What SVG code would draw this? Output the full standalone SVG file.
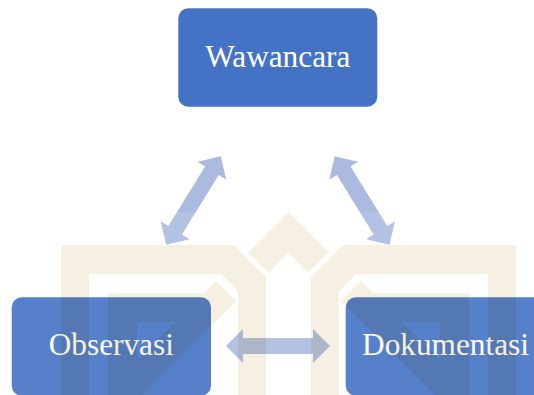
<svg xmlns="http://www.w3.org/2000/svg" xmlns:xlink="http://www.w3.org/1999/xlink" width="534" height="395" viewBox="0 0 534 395">
  <style>
    .box { fill: #4472C4; }
    .lbl { font-family: "Liberation Serif", "Times New Roman", serif; font-size: 31.3px; fill: #FFFFFF; text-anchor: middle; }
    .arr { fill: #ABBADF; }
    .logo { fill: #F6F0E2; }
    #watermark { mix-blend-mode: multiply; }
  </style>
  <defs>
    <polygon id="dblarrow" points="-52,0 -35,-17 -35,-8 35,-8 35,-17 52,0 35,17 35,8 -35,8 -35,17"/>
    <g id="logohalf">
      <polygon points="61,245 234,245 266,277 266,395 238,395 238,291 221,274 89,274 89,395 61,395"/>
      <path fill-rule="evenodd" d="M108,293 L204,293 L216,281 L236,301 L142,395 L108,395 Z M137,322 L175,322 L137,360 Z"/>
    </g>
  </defs>
  <rect x="0" y="0" width="534" height="395" fill="#FFFFFF"/>

  <g id="node-wawancara">
    <rect class="box" x="178.3" y="8.3" width="199" height="98.4" rx="10"/>
    <text class="lbl" x="277.8" y="66.7">Wawancara</text>
  </g>
  <g id="node-observasi">
    <rect class="box" x="11.7" y="297.3" width="199.3" height="98.4" rx="10"/>
    <text class="lbl" x="111.3" y="355.3">Observasi</text>
  </g>
  <g id="node-dokumentasi">
    <rect class="box" x="345.7" y="297.3" width="199.3" height="98.4" rx="10"/>
    <text class="lbl" x="445.5" y="355.3">Dokumentasi</text>
  </g>

  <g id="connectors">
    <use xlink:href="#dblarrow" href="#dblarrow" class="arr" transform="translate(193.5,200.5) rotate(-58.3)"/>
    <use xlink:href="#dblarrow" href="#dblarrow" class="arr" transform="translate(362.1,200.5) rotate(58.3)"/>
    <use xlink:href="#dblarrow" href="#dblarrow" class="arr" transform="translate(278,346)"/>
  </g>

  <g id="watermark-veil">
    <rect x="0" y="212" width="534" height="183" fill="#FFFFFF" fill-opacity="0.1"/>
  </g>
  <g id="watermark" class="logo">
    <use xlink:href="#logohalf" href="#logohalf"/>
    <use xlink:href="#logohalf" href="#logohalf" transform="matrix(-1 0 0 1 577 0)"/>
    <polygon points="288.5,212 329,252.5 308.25,272.75 288.5,253 268.75,272.75 248,252.5"/>
  </g>
</svg>
